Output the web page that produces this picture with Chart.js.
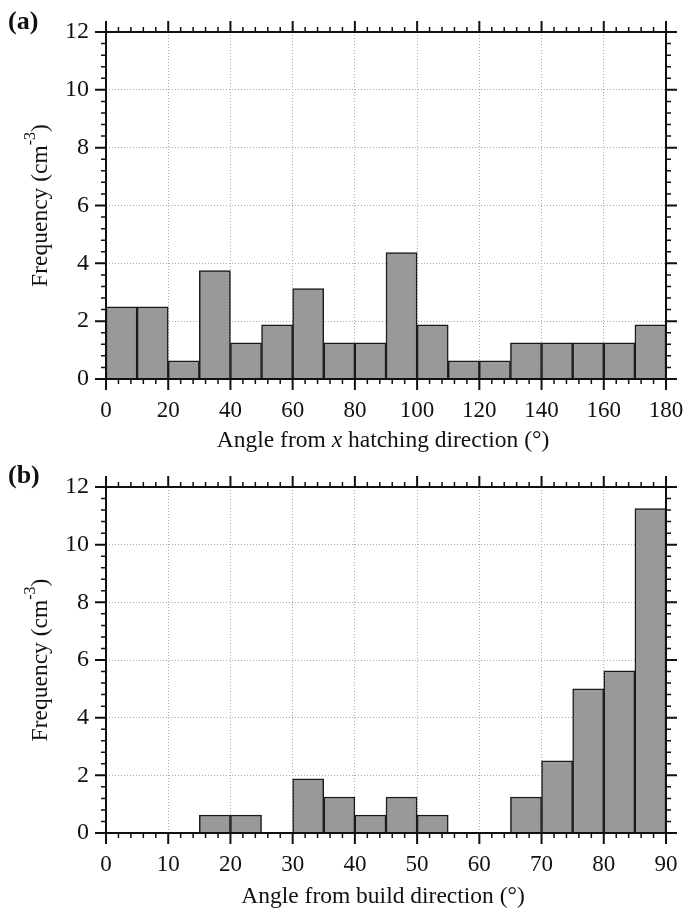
<!DOCTYPE html>
<html>
<head>
<meta charset="utf-8">
<script src="https://cdn.jsdelivr.net/npm/chart.js@4.4.1/dist/chart.umd.min.js"></script>
<style>
  body { margin: 0; background: #fff; }
  canvas { position: absolute; left: 0; }
</style>
</head>
<body>
<canvas id="chartA" width="686" height="456" style="top:0"></canvas>
<canvas id="chartB" width="686" height="457" style="top:456px"></canvas>
<script>
// (a) angle from x hatching direction, 10 deg bins
const binsA = [5, 15, 25, 35, 45, 55, 65, 75, 85, 95, 105, 115, 125, 135, 145, 155, 165, 175];
const freqA = [2.5, 2.5, 0.625, 3.75, 1.25, 1.875, 3.125, 1.25, 1.25, 4.375, 1.875, 0.625, 0.625, 1.25, 1.25, 1.25, 1.25, 1.875];

// (b) angle from build direction, 5 deg bins
const binsB = [2.5, 7.5, 12.5, 17.5, 22.5, 27.5, 32.5, 37.5, 42.5, 47.5, 52.5, 57.5, 62.5, 67.5, 72.5, 77.5, 82.5, 87.5];
const freqB = [0, 0, 0, 0.625, 0.625, 0, 1.875, 1.25, 0.625, 1.25, 0.625, 0, 0, 1.25, 2.5, 5.0, 5.625, 11.25];

const yMax = 12;
const yStep = 2;

Chart.defaults.font.family = "'Liberation Serif', 'Times New Roman', serif";
Chart.defaults.font.size = 23;
Chart.defaults.color = "#111";

// frame, outer ticks on all four sides, titles and panel letter
const framePlugin = {
  id: "frame",
  afterDraw(chart, args, opts) {
    const ctx = chart.ctx;
    const a = chart.chartArea;
    const x = chart.scales.x;
    const y = chart.scales.y;
    ctx.save();
    ctx.strokeStyle = "#111";

    function ticks(scale, major, minor, horiz) {
      const n = Math.round((scale.max - scale.min) / minor);
      for (let i = 0; i <= n; i++) {
        const v = scale.min + i * minor;
        const isMajor = Math.abs(v / major - Math.round(v / major)) < 1e-6;
        const len = isMajor ? 11 : 5;
        const p = scale.getPixelForValue(v);
        ctx.lineWidth = isMajor ? 2 : 1.5;
        ctx.beginPath();
        if (horiz) {
          ctx.moveTo(p, a.bottom); ctx.lineTo(p, a.bottom + len);
          ctx.moveTo(p, a.top); ctx.lineTo(p, a.top - len);
        } else {
          ctx.moveTo(a.left, p); ctx.lineTo(a.left - len, p);
          ctx.moveTo(a.right, p); ctx.lineTo(a.right + len, p);
        }
        ctx.stroke();
      }
    }
    ticks(x, opts.xMajor, opts.xMinor, true);
    ticks(y, yStep, 0.4, false);

    ctx.lineWidth = 2;
    ctx.strokeRect(a.left, a.top, a.right - a.left, a.bottom - a.top);

    // x title, may hold italic parts
    ctx.fillStyle = "#111";
    ctx.textBaseline = "middle";
    ctx.textAlign = "left";
    const fam = Chart.defaults.font.family;
    const tsize = "23.5px ";
    let total = 0;
    opts.xTitle.forEach(function (s) {
      ctx.font = (s.italic ? "italic " : "") + tsize + fam;
      s.w = ctx.measureText(s.text).width;
      total += s.w;
    });
    let cx = (a.left + a.right) / 2 - 3 - total / 2;
    const ty = a.bottom + opts.xTitleGap;
    opts.xTitle.forEach(function (s) {
      ctx.font = (s.italic ? "italic " : "") + tsize + fam;
      ctx.fillText(s.text, cx, ty);
      cx += s.w;
    });

    // y title with superscript
    ctx.save();
    ctx.translate(41, (a.top + a.bottom) / 2);
    ctx.rotate(-Math.PI / 2);
    const main = "Frequency (cm", sup = "-3", close = ")";
    ctx.font = tsize + fam;
    const w1 = ctx.measureText(main).width;
    const w3 = ctx.measureText(close).width;
    ctx.font = "16px " + fam;
    const w2 = ctx.measureText(sup).width;
    let sx = -(w1 + w2 + w3) / 2;
    ctx.font = tsize + fam;
    ctx.fillText(main, sx, 0);
    ctx.font = "16px " + fam;
    ctx.fillText(sup, sx + w1, -10);
    ctx.font = tsize + fam;
    ctx.fillText(close, sx + w1 + w2, 0);
    ctx.restore();

    // panel letter
    ctx.font = "bold 26px " + fam;
    ctx.fillText(opts.panel, 8, opts.panelY);
    ctx.restore();
  }
};

function makeChart(id, bins, freq, xMax, xMajor, xMinor, xTitle, panel, pad) {
  const ctx = document.getElementById(id).getContext("2d");
  return new Chart(ctx, {
    type: "bar",
    data: {
      datasets: [
        {
          data: bins.map(function (b, i) { return { x: b, y: freq[i] }; }),
          backgroundColor: "#999999",
          borderColor: "#1a1a1a",
          borderWidth: 1.5,
          barPercentage: 1,
          categoryPercentage: 1,
        },
      ],
    },
    options: {
      responsive: false,
      animation: false,
      layout: { padding: { left: 0, right: 20, top: pad.top, bottom: 0 } },
      plugins: {
        legend: { display: false },
        tooltip: { enabled: false },
        frame: {
          xMajor: xMajor, xMinor: xMinor, xTitle: xTitle,
          xTitleGap: pad.titleGap, panel: panel, panelY: pad.panelY,
        },
      },
      scales: {
        x: {
          type: "linear",
          min: 0,
          max: xMax,
          offset: false,
          ticks: { stepSize: xMajor, padding: 18, maxRotation: 0 },
          grid: { color: "#aaaaaa", lineWidth: 1, drawTicks: false, offset: false },
          border: { display: false, dash: [1, 2] },
          afterFit: function (s) {
            s.height = pad.xHeight;
            s.paddingLeft = 0;
            s.paddingRight = 0;
          },
        },
        y: {
          min: 0,
          max: yMax,
          ticks: { stepSize: yStep, padding: 17, font: { size: 24 } },
          grid: { color: "#aaaaaa", lineWidth: 1, drawTicks: false },
          border: { display: false, dash: [1, 2] },
          afterFit: function (s) {
            s.width = 106;
            s.paddingTop = 0;
            s.paddingBottom = 0;
          },
        },
      },
    },
    plugins: [framePlugin],
  });
}

makeChart("chartA", binsA, freqA, 180, 20, 4,
  [{ text: "Angle from " }, { text: "x", italic: true }, { text: " hatching direction (°)" }],
  "(a)", { top: 32, xHeight: 77, titleGap: 62, panelY: 22 });

makeChart("chartB", binsB, freqB, 90, 10, 2,
  [{ text: "Angle from build direction (°)" }],
  "(b)", { top: 31, xHeight: 80, titleGap: 64, panelY: 20 });
</script>
</body>
</html>
